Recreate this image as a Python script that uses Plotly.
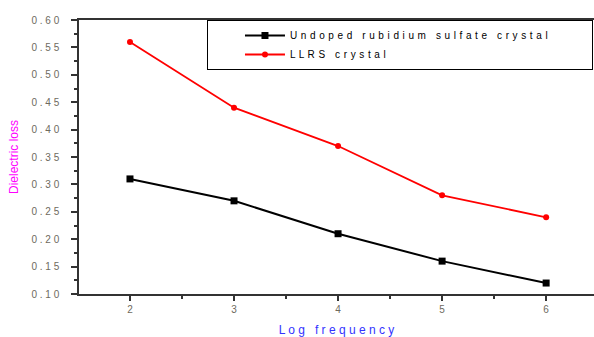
import plotly.graph_objects as go

log_freq = [2, 3, 4, 5, 6]
undoped = [0.31, 0.27, 0.21, 0.16, 0.12]
llrs = [0.56, 0.44, 0.37, 0.28, 0.24]
y_ticks = [0.10, 0.15, 0.20, 0.25, 0.30, 0.35, 0.40, 0.45, 0.50, 0.55, 0.60]
x_ticks = [2, 3, 4, 5, 6]

HAIR = "\u200a"

def spaced(s, sep=" "):
    return sep.join(s)

tick_color = "#6e6a5e"
font = "Liberation Sans, Arial, sans-serif"

fig = go.Figure()
fig.add_trace(go.Scatter(
    x=log_freq, y=undoped, mode="lines+markers",
    name=spaced("Undoped rubidium sulfate crystal", " " + HAIR) + "\u00a0" * 14,
    line=dict(color="black", width=2),
    marker=dict(symbol="square", size=7, color="black"),
))
fig.add_trace(go.Scatter(
    x=log_freq, y=llrs, mode="lines+markers",
    name=spaced("LLRS crystal", " " + HAIR),
    line=dict(color="#ff0000", width=1.8),
    marker=dict(symbol="circle", size=6, color="#ff0000"),
))

fig.update_layout(
    width=594, height=337,
    margin=dict(l=79, r=0, t=20, b=43, autoexpand=False),
    paper_bgcolor="white", plot_bgcolor="white",
    font=dict(family=font, size=10, color=tick_color),
    showlegend=True,
    legend=dict(
        x=0.2485, y=1.0, xanchor="left", yanchor="top",
        bordercolor="black", borderwidth=1, bgcolor="white",
        font=dict(family=font, size=10, color="black"),
        tracegroupgap=0, itemwidth=40, indentation=32,
    ),
    xaxis=dict(
        range=[1.51, 6.46], automargin=False,
        tickvals=x_ticks, ticktext=[str(v) for v in x_ticks],
        showgrid=False, zeroline=False,
        showline=True, linecolor="#333333", linewidth=1.5, mirror=True,
        ticks="outside", ticklen=5, tickwidth=1.5, tickcolor="#333333",
        minor=dict(dtick=0.5, tick0=1.5, ticks="outside", ticklen=3, tickwidth=1.5, tickcolor="#333333"),
        tickfont=dict(size=10, color=tick_color),
        title=dict(text=spaced("Log frequency"), font=dict(size=12, color="#3333ff"), standoff=12),
    ),
    yaxis=dict(
        range=[0.10, 0.60], automargin=False,
        tickvals=y_ticks, ticktext=[spaced(f"{v:.2f}") for v in y_ticks],
        showgrid=False, zeroline=False,
        showline=True, linecolor="#333333", linewidth=1.5, mirror=False,
        ticks="outside", ticklen=6, tickwidth=1.5, tickcolor="#333333",
        ticklabelstandoff=10,
        minor=dict(dtick=0.025, tick0=0.1, ticks="outside", ticklen=3, tickwidth=1.5, tickcolor="#333333"),
        tickfont=dict(size=10, color=tick_color),
        title=dict(text="Dielectric loss", font=dict(size=12, color="#ff00ff"), standoff=10),
    ),
)

fig.write_html("out.html")
